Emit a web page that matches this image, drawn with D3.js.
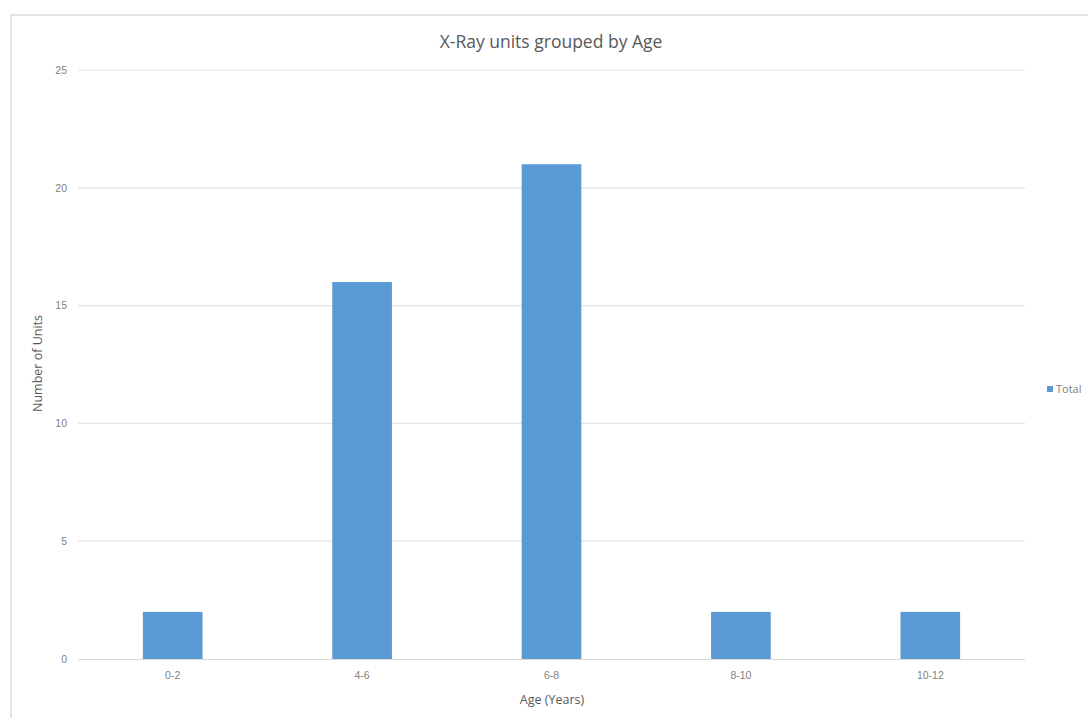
<!DOCTYPE html>
<html>
<head>
<meta charset="utf-8">
<script src="https://cdn.jsdelivr.net/npm/d3@7"></script>
<style>
  html, body { margin: 0; padding: 0; background: #fff; }
  svg { display: block; font-family: "Open Sans", "Liberation Sans", sans-serif; }
</style>
</head>
<body>
<svg id="chart" width="1088" height="718"></svg>
<script>
// Age bands and the number of X-Ray units in each
const categories = ["0-2", "4-6", "6-8", "8-10", "10-12"];
const totals = [2, 16, 21, 2, 2];
const yTicks = [0, 5, 10, 15, 20, 25];
const seriesName = "Total";

const svg = d3.select("#chart");
const W = 1088, H = 718;
const plot = { left: 78, right: 1025, top: 70, bottom: 659 };

// Chart frame
svg.append("rect")
  .attr("x", 11).attr("y", 15)
  .attr("width", W + 20).attr("height", H + 20)
  .attr("fill", "#fff")
  .attr("stroke", "#d9d9d9").attr("stroke-width", 1.5);

const x = d3.scaleBand()
  .domain(categories)
  .range([plot.left, plot.right])
  .paddingInner(0.685)
  .paddingOuter(0.3425);

const y = d3.scaleLinear()
  .domain([0, 25])
  .range([plot.bottom, plot.top]);

// Horizontal gridlines
svg.append("g")
  .selectAll("line")
  .data(yTicks.filter(d => d > 0))
  .join("line")
  .attr("x1", plot.left).attr("x2", plot.right)
  .attr("y1", d => y(d)).attr("y2", d => y(d))
  .attr("stroke", "#e3e3e3").attr("stroke-width", 1.2);

// Y axis labels
const yAxis = d3.axisLeft(y).tickValues(yTicks).tickSize(0).tickPadding(11);
const yg = svg.append("g").attr("transform", `translate(${plot.left},0)`).call(yAxis);
yg.select(".domain").remove();
yg.selectAll("text").attr("fill", "#7f7f7f").attr("font-size", 10.5);

// Bars
svg.append("g")
  .selectAll("rect")
  .data(categories.map((c, i) => ({ c, v: totals[i] })))
  .join("rect")
  .attr("x", d => x(d.c))
  .attr("width", x.bandwidth())
  .attr("y", d => y(d.v))
  .attr("height", d => y(0) - y(d.v))
  .attr("fill", "#5b9bd5");

// Category axis
svg.append("line")
  .attr("x1", plot.left).attr("x2", plot.right)
  .attr("y1", plot.bottom + 0.5).attr("y2", plot.bottom + 0.5)
  .attr("stroke", "#d9d9d9").attr("stroke-width", 1.2);

const xAxis = d3.axisBottom(x).tickSize(0).tickPadding(13);
const xg = svg.append("g").attr("transform", `translate(0,${plot.bottom})`).call(xAxis);
xg.select(".domain").remove();
xg.selectAll("text").attr("fill", "#7f7f7f").attr("font-size", 10.5);

// Title
svg.append("text")
  .attr("x", 551).attr("y", 48)
  .attr("text-anchor", "middle")
  .attr("fill", "#595959")
  .attr("font-size", 17.5)
  .text("X-Ray units grouped by Age");

// Axis titles
svg.append("text")
  .attr("x", 552).attr("y", 704)
  .attr("text-anchor", "middle")
  .attr("fill", "#595959")
  .attr("font-size", 12.5)
  .text("Age (Years)");

svg.append("text")
  .attr("transform", `translate(42,${(plot.top + plot.bottom) / 2 - 1}) rotate(-90)`)
  .attr("text-anchor", "middle")
  .attr("fill", "#595959")
  .attr("font-size", 12.5)
  .text("Number of Units");

// Legend
const legend = svg.append("g").attr("transform", "translate(1047,389)");
legend.append("rect")
  .attr("x", 0).attr("y", -3).attr("width", 6).attr("height", 6)
  .attr("fill", "#5b9bd5");
legend.append("text")
  .attr("x", 9).attr("y", 4)
  .attr("fill", "#7f7f7f")
  .attr("font-size", 11)
  .text(seriesName);
</script>
</body>
</html>
